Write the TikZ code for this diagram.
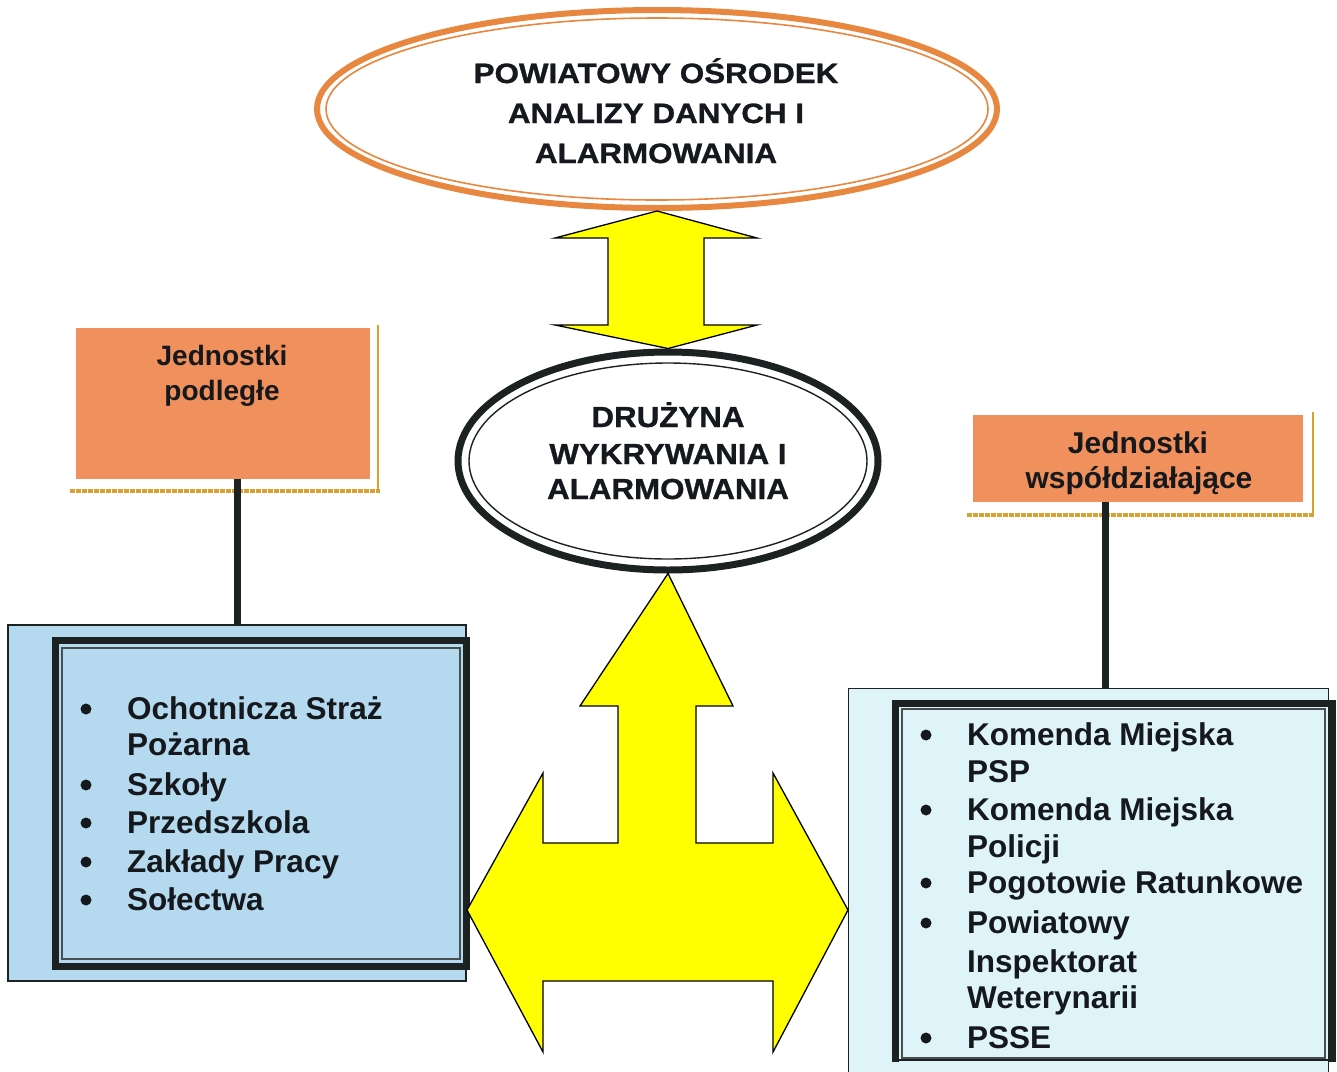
\documentclass[tikz,border=0pt]{standalone}
\usepackage{fontspec}
\setmainfont{Liberation Sans}
\newfontfamily\titlef{Liberation Sans}[FakeStretch=1.12,FakeBold=1]
\newfontfamily\midf{Liberation Sans}[FakeStretch=1.08,FakeBold=1]
\usetikzlibrary{shapes.geometric,calc}
\definecolor{ink}{HTML}{15181C}
\definecolor{orfill}{HTML}{F0905C}
\definecolor{orline}{HTML}{E8873F}
\definecolor{gold}{HTML}{D9A230}
\definecolor{lblue}{HTML}{B5DAF0}
\definecolor{rblue}{HTML}{DFF4F9}
\definecolor{frame}{HTML}{1C2222}
\definecolor{yel}{HTML}{FFFF00}
\begin{document}
\begin{tikzpicture}[x=1pt,y=-1pt,
  ttl/.style={font=\titlef\bfseries\fontsize{28}{30}\selectfont,text=ink,anchor=base,inner sep=0pt},
  mtx/.style={font=\midf\bfseries\fontsize{29}{30}\selectfont,text=ink,anchor=base,inner sep=0pt},
  hdl/.style={font=\bfseries\fontsize{28}{30}\selectfont,text=ink,anchor=base,inner sep=0pt},
  hdr/.style={font=\bfseries\fontsize{30}{32}\selectfont,text=ink,anchor=base,inner sep=0pt},
  item/.style={font=\bfseries\fontsize{31.5}{33}\selectfont,text=ink,anchor=base west,inner sep=0pt},
  bul/.style={fill=ink},
  arr/.style={fill=yel,draw=black,line width=1.3pt,line join=miter},
  orbox/.style={rectangle,fill=orfill,draw=none,inner sep=0pt},
  conn/.style={draw=frame,line width=7pt}
]
\useasboundingbox (0,0) rectangle (1337,1071);

% ---------- top ellipse ----------
\node[ellipse,draw=orline,line width=6pt,fill=white,minimum width=680pt,minimum height=198pt,inner sep=0pt] (top) at (657,109) {};
\draw[orline,line width=1.6pt] (top.center) ellipse (331pt and 91pt);
\node[ttl] (t1) at (656,83) {POWIATOWY OŚRODEK};
\node[ttl] (t2) at (656,123) {ANALIZY DANYCH I};
\node[ttl] (t3) at (656,163) {ALARMOWANIA};

% ---------- middle ellipse ----------
\node[ellipse,draw=frame,line width=7pt,fill=white,minimum width=420pt,minimum height=218pt,inner sep=0pt] (mid) at (668,461) {};
\draw[frame,line width=1.4pt] (mid.center) ellipse (199pt and 98pt);
\node[mtx] (m1) at (668,427) {DRUŻYNA};
\node[mtx] (m2) at (668,464) {WYKRYWANIA I};
\node[mtx] (m3) at (668,499) {ALARMOWANIA};

% ---------- small double arrow ----------
\draw[arr] (top.south) -- (757,238) -- (704,238) -- (704,325) -- (757,325) -- (mid.north)
  -- (555,325) -- (608,325) -- (608,238) -- (555,238) -- cycle;

% ---------- orange headers ----------
\draw[gold,line width=4pt,dash pattern=on 5pt off 1pt] (70,491) -- (380,491);
\draw[gold,line width=1.5pt] (378,325) -- (378,491);
\node[orbox,minimum width=294pt,minimum height=151pt] (lor) at (223,403.5) {};
\node[hdl] (lh1) at (222,365) {Jednostki};
\node[hdl] (lh2) at (222,400) {podległe};

\draw[gold,line width=4pt,dash pattern=on 5pt off 1pt] (967,515) -- (1314,515);
\draw[gold,line width=1.5pt] (1313,412) -- (1313,515);
\node[orbox,minimum width=330pt,minimum height=87pt] (ror) at (1138,458.5) {};
\node[hdr] (rh1) at (1138,453) {Jednostki};
\node[hdr] (rh2) at (1139,488) {współdziałające};

% ---------- left blue box ----------
\node[rectangle,fill=lblue,draw=frame,line width=1.2pt,minimum width=458pt,minimum height=356pt,inner sep=0pt] (lbl) at (237,803) {};
\draw[frame,line width=7pt] (55.5,640.5) rectangle (466.5,966.5);
\draw[frame!80,line width=1.2pt] (62,648) rectangle (460,959);
\draw[conn] (lbl.north) -- (lbl.north |- lor.south);

\foreach \yy/\nm/\tx in {719/a1/Ochotnicza Straż,755/a2/Pożarna,795/a3/Szkoły,833/a4/Przedszkola,872/a5/Zakłady Pracy,910/a6/Sołectwa}{
  \node[item] (\nm) at (127,\yy) {\tx};
}
\foreach \yy in {719,795,833,872,910}{\fill[bul] (86,\yy-10) circle (5.5pt);}

% ---------- right blue box ----------
\node[rectangle,fill=rblue,draw=frame,line width=1.2pt,minimum width=480pt,minimum height=400pt,inner sep=0pt,anchor=north west] (rbl) at (848,688) {};
\draw[frame,line width=7pt] (895.5,1062) -- (895.5,703.5) -- (1332,703.5) -- (1332,1062);
\draw[frame!80,line width=1.2pt] (902,709) rectangle (1325,1058);
\draw[frame,line width=2pt] (892,1060) -- (1335,1060);
\draw[conn] ([xshift=-33pt]ror.south) -- ([xshift=-33pt]ror.south |- rbl.north);

\foreach \yy/\nm/\tx in {745/b1/Komenda Miejska,782/b2/PSP,820/b3/Komenda Miejska,857/b4/Policji,893/b5/Pogotowie Ratunkowe,933/b6/Powiatowy,972/b7/Inspektorat,1008/b8/Weterynarii,1048/b9/PSSE}{
  \node[item] (\nm) at (967,\yy) {\tx};
}
\foreach \yy in {745,820,893,933,1048}{\fill[bul] (926,\yy-10) circle (5.5pt);}

% ---------- big three-way arrow ----------
\coordinate (rtip) at (848,910);
\coordinate (ltip) at (467,910);
\draw[arr] (mid.south) -- (733,706) -- (696,706) -- (696,843) -- (773,843) -- (773,773)
  -- (rtip) -- (773,1052) -- (773,981) -- (543,981) -- (543,1052)
  -- (ltip) -- (543,773) -- (543,843) -- (618,843) -- (618,706) -- (580,706) -- cycle;
\end{tikzpicture}
\end{document}
